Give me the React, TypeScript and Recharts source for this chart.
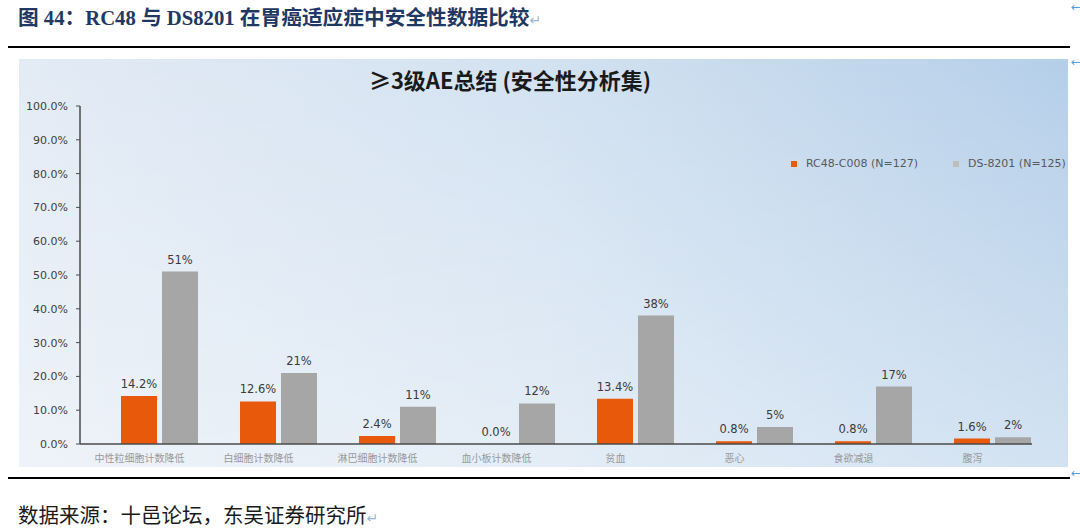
import React from "react";
import { BarChart, Bar, XAxis, YAxis, LabelList } from "recharts";

const categories = [
  "中性粒细胞计数降低",
  "白细胞计数降低",
  "淋巴细胞计数降低",
  "血小板计数降低",
  "贫血",
  "恶心",
  "食欲减退",
  "腹泻",
];
const rc48Values = [14.2, 12.6, 2.4, 0.0, 13.4, 0.8, 0.8, 1.6];
const ds8201Values = [51, 21, 11, 12, 38, 5, 17, 2];
const yTicks = [0, 10, 20, 30, 40, 50, 60, 70, 80, 90, 100];
const seriesNames = ["RC48-C008 (N=127)", "DS-8201 (N=125)"];

const ORANGE = "#E8590C";
const GREY = "#A6A6A6";

const data = categories.map((name, i) => ({
  name,
  rc48: rc48Values[i],
  ds8201: ds8201Values[i],
}));

const LegendBox = () => (
  <div
    style={{
      position: "absolute",
      left: 772,
      top: 98,
      display: "flex",
      alignItems: "center",
      fontFamily: "'DejaVu Sans', sans-serif",
      fontSize: 11,
      color: "#595959",
      whiteSpace: "nowrap",
      lineHeight: "14px",
    }}
  >
    <span style={{ width: 6, height: 6, background: ORANGE, display: "inline-block", marginRight: 9 }} />
    <span style={{ marginRight: 35 }}>{seriesNames[0]}</span>
    <span style={{ width: 6, height: 6, background: "#BDBDBD", display: "inline-block", marginRight: 9 }} />
    <span>{seriesNames[1]}</span>
  </div>
);

export default function App() {
  return (
    <div style={{ position: "absolute", left: 0, top: 0, width: 1080, height: 531, background: "#fff", overflow: "hidden" }}>
      <div
        style={{
          position: "absolute",
          left: 18,
          top: 5,
          fontFamily: "'Liberation Serif', 'Noto Sans CJK SC', serif",
          fontWeight: 700,
          fontSize: 20.7,
          color: "#1F3864",
          whiteSpace: "nowrap",
          lineHeight: "26px",
        }}
      >
        图 44：RC48 与 DS8201 在胃癌适应症中安全性数据比较
        <span style={{ fontWeight: 400, fontSize: 14, color: "#9DB3CF", fontFamily: "'DejaVu Sans', sans-serif" }}>↵</span>
      </div>
      <div style={{ position: "absolute", left: 8, top: 46, width: 1062, height: 2, background: "#000" }} />
      <div style={{ position: "absolute", left: 1071, top: 0, fontSize: 12, color: "#5B9BD5", fontFamily: "'DejaVu Sans', sans-serif" }}>←</div>
      <div style={{ position: "absolute", left: 1071, top: 55, fontSize: 12, color: "#5B9BD5", fontFamily: "'DejaVu Sans', sans-serif" }}>←</div>
      <div style={{ position: "absolute", left: 1071, top: 466, fontSize: 12, color: "#5B9BD5", fontFamily: "'DejaVu Sans', sans-serif" }}>←</div>

      <div
        style={{
          position: "absolute",
          left: 19,
          top: 59,
          width: 1049,
          height: 408,
          background:
            "linear-gradient(to bottom, rgba(255,255,255,0) 0%, rgba(255,255,255,0.4) 100%), linear-gradient(to right, #e3ebf5 0%, #d3e2f1 50%, #b5cfe9 100%)",
        }}
      >
        <div
          style={{
            position: "absolute",
            left: 0,
            width: 982,
            top: 5,
            textAlign: "center",
            fontFamily: "'Noto Sans CJK SC', sans-serif",
            fontWeight: 700,
            fontSize: 22,
            color: "#1a1a1a",
            lineHeight: "30px",
          }}
        >
          ≥3级AE总结 (安全性分析集)
        </div>
        <LegendBox />
        <BarChart
          width={1049}
          height={408}
          data={data}
          margin={{ top: 47, right: 36, bottom: 3, left: 0 }}
          barCategoryGap={0}
          barGap={5}
        >
          <XAxis
            dataKey="name"
            axisLine={{ stroke: "#4a4a4a", strokeWidth: 1.5 }}
            tickLine={false}
            tickSize={0}
            tickMargin={11}
            interval={0}
            height={20}
            tick={{ fontSize: 10, fill: "#999999", fontFamily: "'Noto Sans CJK SC', sans-serif" }}
          />
          <YAxis
            domain={[0, 100]}
            ticks={yTicks}
            width={61}
            axisLine={{ stroke: "#4a4a4a", strokeWidth: 1.5 }}
            tickLine={{ stroke: "#4a4a4a" }}
            tickSize={4}
            tickMargin={8}
            interval={0}
            tickFormatter={(v: number) => `${v.toFixed(1)}%`}
            tick={{ fontSize: 11, fill: "#404040", fontFamily: "'DejaVu Sans', sans-serif" }}
          />
          <Bar dataKey="spacer" fill="transparent" legendType="none" isAnimationActive={false} />
          <Bar dataKey="rc48" name={seriesNames[0]} fill={ORANGE} minPointSize={0.01} isAnimationActive={false}>
            <LabelList
              dataKey="rc48"
              position="top"
              offset={8}
              formatter={(v: number) => `${Number(v).toFixed(1)}%`}
              style={{ fontSize: 11.5, fill: "#3a3a3a", fontFamily: "'DejaVu Sans', sans-serif" }}
            />
          </Bar>
          <Bar dataKey="ds8201" name={seriesNames[1]} fill={GREY} isAnimationActive={false}>
            <LabelList
              dataKey="ds8201"
              position="top"
              offset={8}
              formatter={(v: number) => `${v}%`}
              style={{ fontSize: 11.5, fill: "#3a3a3a", fontFamily: "'DejaVu Sans', sans-serif" }}
            />
          </Bar>
        </BarChart>
      </div>

      <div style={{ position: "absolute", left: 8, top: 477, width: 1062, height: 2, background: "#000" }} />
      <div
        style={{
          position: "absolute",
          left: 18,
          top: 500,
          fontFamily: "'Noto Sans CJK SC', sans-serif",
          fontSize: 20.5,
          color: "#1a1a1a",
          whiteSpace: "nowrap",
          lineHeight: "28px",
        }}
      >
        数据来源：十邑论坛，东吴证券研究所
        <span style={{ fontSize: 14, color: "#9DB3CF", fontFamily: "'DejaVu Sans', sans-serif" }}>↵</span>
      </div>
    </div>
  );
}
